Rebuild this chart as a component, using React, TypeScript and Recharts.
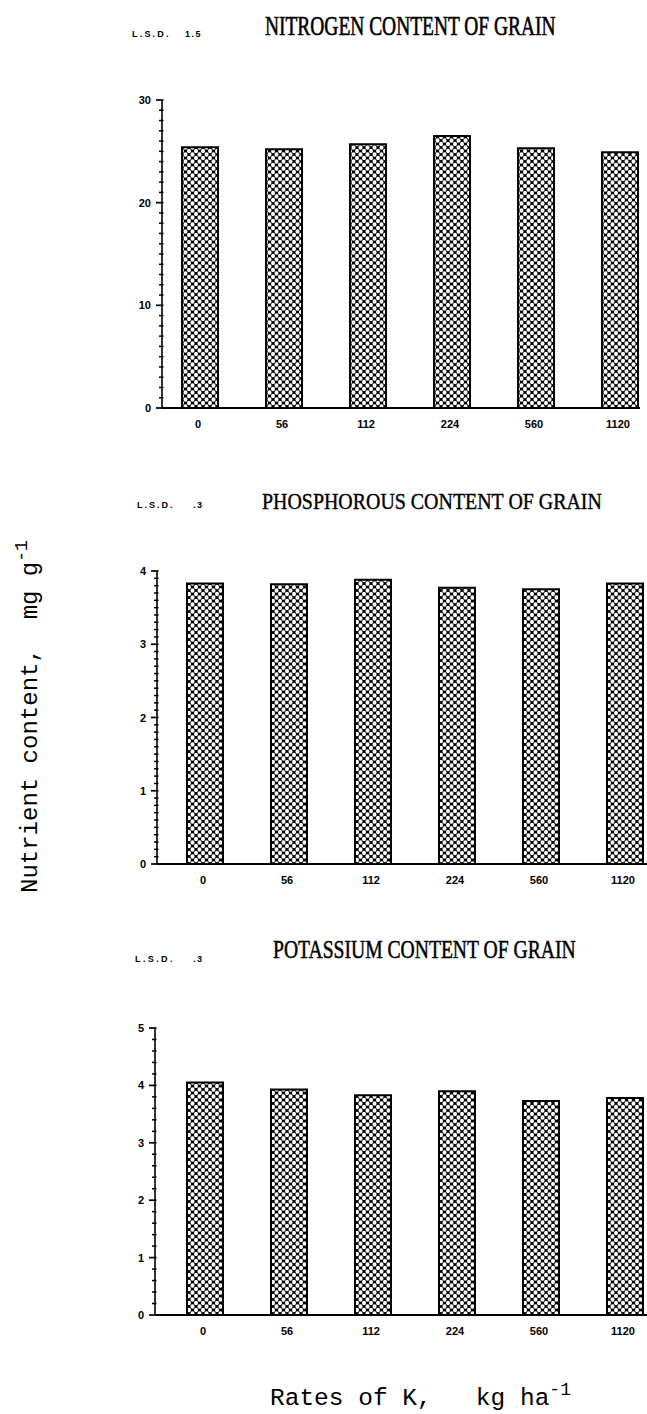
import React from 'react';
import { BarChart, Bar, XAxis, YAxis } from 'recharts';

const RATES = ['0', '56', '112', '224', '560', '1120'];
const NITROGEN = [25.4, 25.2, 25.7, 26.5, 25.3, 24.9];
const PHOSPHORUS = [3.83, 3.82, 3.88, 3.77, 3.75, 3.83];
const POTASSIUM = [4.05, 3.93, 3.83, 3.9, 3.73, 3.78];

const N_MAJOR = [0, 10, 20, 30];
const P_MAJOR = [0, 1, 2, 3, 4];
const K_MAJOR = [0, 1, 2, 3, 4, 5];

const TITLES = ['NITROGEN CONTENT OF GRAIN', 'PHOSPHOROUS CONTENT OF GRAIN', 'POTASSIUM CONTENT OF GRAIN'];
const LSD = ['1.5', '.3', '.3'];

const SANS = 'Liberation Sans, Arial, sans-serif';
const MONO = 'Liberation Mono, Courier New, monospace';
const SERIF = 'Liberation Serif, Times New Roman, serif';

const YTick = (props: any) => {
  const { x, y, payload, majors } = props;
  const v = payload.value;
  const isMajor = majors.some((m: number) => Math.abs(m - v) < 1e-6);
  return (
    <g>
      <line x1={x - (isMajor ? 6 : 3)} x2={x + 1.5} y1={y} y2={y} stroke="#000" strokeWidth={isMajor ? 1.7 : 1.5} />
      {isMajor && (
        <text x={x - 11} y={y} dy={4} textAnchor="end" fontSize={11} fontWeight="bold" fontFamily={SANS} fill="#000">
          {v}
        </text>
      )}
    </g>
  );
};

const XTick = (props: any) => {
  const { x, y, payload } = props;
  return (
    <text x={x - 2} y={y + 20} textAnchor="middle" fontSize={11} fontWeight="bold" fontFamily={SANS} fill="#000">
      {payload.value}
    </text>
  );
};

function Panel(props: {
  top: number;
  height: number;
  plotLeft: number;
  padLeft: number;
  padRight: number;
  values: number[];
  majors: number[];
  step: number;
  max: number;
}) {
  const { top, height, plotLeft, padLeft, padRight, values, majors, step, max } = props;
  const data = RATES.map((r, i) => ({ rate: r, v: values[i] }));
  const ticks: number[] = [];
  for (let i = 0; i <= Math.round(max / step); i++) ticks.push(+(i * step).toFixed(4));
  const W = 700;
  const right = W - (plotLeft + padLeft + 504 + padRight);
  return (
    <div style={{ position: 'absolute', left: 0, top, width: W, height }}>
      <BarChart
        width={W}
        height={height}
        data={data}
        margin={{ top: 40, right, left: plotLeft - 40, bottom: 0 }}
        barCategoryGap={0}
      >
        <XAxis
          dataKey="rate"
          height={32}
          tickLine={false}
          tickSize={0}
          tickMargin={0}
          interval={0}
          axisLine={{ stroke: '#000', strokeWidth: 2 }}
          padding={{ left: padLeft, right: padRight }}
          tick={<XTick />}
        />
        <YAxis
          width={40}
          domain={[0, max]}
          ticks={ticks}
          interval={0}
          tickSize={0}
          tickMargin={0}
          tickLine={false}
          axisLine={{ stroke: '#000', strokeWidth: 1.6 }}
          tick={<YTick majors={majors} />}
        />
        <Bar dataKey="v" barSize={36} fill="url(#mesh)" stroke="#000" strokeWidth={2} isAnimationActive={false} />
      </BarChart>
    </div>
  );
}

export default function App() {
  return (
    <div style={{ position: 'absolute', left: 0, top: 0, width: 647, height: 1414, overflow: 'hidden', background: '#fff' }}>
      <svg width={0} height={0} style={{ position: 'absolute' }}>
        <defs>
          <pattern id="mesh" width="7" height="7" patternUnits="userSpaceOnUse">
            <rect width="7" height="7" fill="#000" />
            <ellipse cx="0" cy="0" rx="2" ry="2.3" fill="#fff" />
            <ellipse cx="7" cy="0" rx="2" ry="2.3" fill="#fff" />
            <ellipse cx="0" cy="7" rx="2" ry="2.3" fill="#fff" />
            <ellipse cx="7" cy="7" rx="2" ry="2.3" fill="#fff" />
            <ellipse cx="3.5" cy="3.5" rx="2" ry="2.3" fill="#fff" />
          </pattern>
        </defs>
      </svg>

      <Panel top={60} height={380} plotLeft={162} padLeft={-4} padRight={-22} values={NITROGEN} majors={N_MAJOR} step={1} max={30} />
      <Panel top={531} height={365} plotLeft={157} padLeft={6} padRight={0} values={PHOSPHORUS} majors={P_MAJOR} step={0.1} max={4} />
      <Panel top={988} height={359} plotLeft={155} padLeft={8} padRight={0} values={POTASSIUM} majors={K_MAJOR} step={0.2} max={5} />

      <svg width={647} height={1414} style={{ position: 'absolute', left: 0, top: 0, pointerEvents: 'none' }}>
        {/* L.S.D. labels */}
        <text x={132} y={37} fontSize={9} fontWeight="bold" fontFamily={SANS} letterSpacing={2.2}>L.S.D.</text>
        <text x={185} y={37} fontSize={9} fontWeight="bold" fontFamily={SANS} letterSpacing={1.5}>{LSD[0]}</text>
        <text x={137} y={508} fontSize={9} fontWeight="bold" fontFamily={SANS} letterSpacing={2}>L.S.D.</text>
        <text x={193} y={508} fontSize={9} fontWeight="bold" fontFamily={SANS} letterSpacing={1.5}>{LSD[1]}</text>
        <text x={135} y={962} fontSize={9} fontWeight="bold" fontFamily={SANS} letterSpacing={2.4}>L.S.D.</text>
        <text x={193} y={962} fontSize={9} fontWeight="bold" fontFamily={SANS} letterSpacing={1.5}>{LSD[2]}</text>

        {/* Titles */}
        <g transform="translate(265,35) scale(0.72,1)">
          <text x={0} y={0} fontSize={27} fontFamily={SERIF} stroke="#000" strokeWidth={0.6}>{TITLES[0]}</text>
        </g>
        <g transform="translate(262,509) scale(0.83,1)">
          <text x={0} y={0} fontSize={24} fontFamily={SERIF} stroke="#000" strokeWidth={0.4}>{TITLES[1]}</text>
        </g>
        <g transform="translate(273,958) scale(0.755,1)">
          <text x={0} y={0} fontSize={26} fontFamily={SERIF} stroke="#000" strokeWidth={0.5}>{TITLES[2]}</text>
        </g>

        {/* Y axis label */}
        <text transform="translate(37,893) rotate(-90)" fontSize={24} fontFamily={MONO} fill="#000" xmlSpace="preserve" style={{ whiteSpace: 'pre' }}>
          {'Nutrient content,  mg g'}
          <tspan dy={-10} fontSize={18}>-1</tspan>
        </text>

        {/* X axis label */}
        <text x={270} y={1405} fontSize={24.5} fontFamily={MONO} fill="#000" xmlSpace="preserve" style={{ whiteSpace: 'pre' }}>
          {'Rates of K,   kg ha'}
          <tspan dy={-10} fontSize={18}>-1</tspan>
        </text>
      </svg>
    </div>
  );
}
